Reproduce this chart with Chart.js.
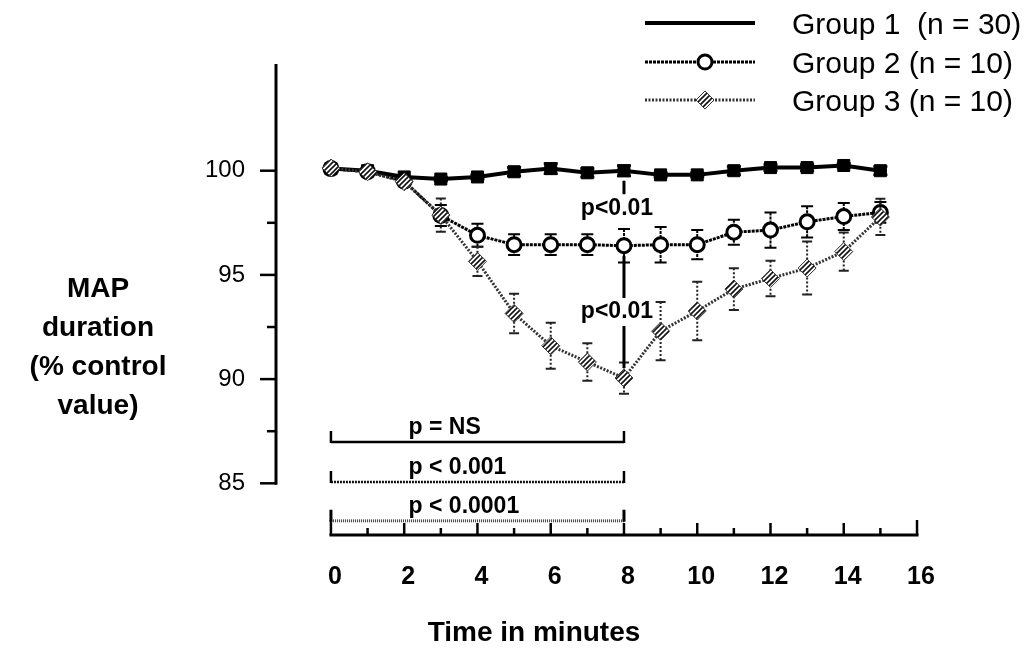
<!DOCTYPE html>
<html>
<head>
<meta charset="utf-8">
<title>MAP duration</title>
<script src="https://cdn.jsdelivr.net/npm/chart.js@4.4.1/dist/chart.umd.min.js"></script>
<style>
  html, body { margin: 0; padding: 0; background: #fff; }
  #grafico { display: block; }
</style>
</head>
<body>
<canvas id="grafico" width="1027" height="650"></canvas>
<script>
// time points (minutes)
const minutes = [0, 1, 2, 3, 4, 5, 6, 7, 8, 9, 10, 11, 12, 13, 14, 15];

// MAP duration, % of control value (mean and SEM)
const group1 = [100.1, 100.0, 99.7, 99.6, 99.7, 99.95, 100.1, 99.9, 100.0, 99.8, 99.8, 100.0, 100.15, 100.15, 100.25, 100.0];
const group1Err = [0, 0, 0, 0.1, 0.1, 0.2, 0.25, 0.2, 0.25, 0.1, 0.1, 0.2, 0.15, 0.15, 0.1, 0.2];
const group2 = [100.1, 99.95, 99.5, 97.85, 96.9, 96.45, 96.45, 96.45, 96.4, 96.45, 96.45, 97.05, 97.15, 97.55, 97.8, 98.0];
const group2Err = [0, 0, 0, 0.5, 0.55, 0.5, 0.5, 0.5, 0.8, 0.85, 0.7, 0.6, 0.85, 0.75, 0.65, 0.5];
const group3 = [100.13, 99.95, 99.47, 97.87, 95.65, 93.15, 91.6, 90.82, 90.05, 92.3, 93.27, 94.32, 94.83, 95.33, 96.12, 97.78];
const group3Err = [0, 0, 0, 0.8, 0.7, 0.95, 1.1, 0.9, 0.75, 1.4, 1.4, 1.0, 0.85, 1.27, 0.92, 0.87];

const seriesNames = ['Group 1  (n = 30)', 'Group 2 (n = 10)', 'Group 3 (n = 10)'];

const xTickValues = [0, 2, 4, 6, 8, 10, 12, 14, 16];
const xTickLabels = ['0', '2', '4', '6', '8', '10', '12', '14', '16'];
const yTickValues = [85, 90, 95, 100];
const yTickLabels = ['85', '90', '95', '100'];

// comparisons over 0-8 min, and between groups at 8 min
const rangeTests = ['p = NS', 'p < 0.001', 'p < 0.0001'];
const rangeStart = 0;
const rangeEnd = 8;
const pointTests = ['p<0.01', 'p<0.01'];
const pointTestMinute = 8;

const FONT = "'Liberation Sans', Arial, Helvetica, sans-serif";

const canvas = document.getElementById('grafico');
const ctx = canvas.getContext('2d');

// diagonal hatch used for group 3 markers
function makeHatch() {
    const c = document.createElement('canvas');
    c.width = 5;
    c.height = 5;
    const g = c.getContext('2d');
    g.fillStyle = '#fff';
    g.fillRect(0, 0, 5, 5);
    g.strokeStyle = '#111';
    g.lineWidth = 1.6;
    g.beginPath();
    g.moveTo(0, 5); g.lineTo(5, 0);
    g.moveTo(-1, 1); g.lineTo(1, -1);
    g.moveTo(4, 6); g.lineTo(6, 4);
    g.stroke();
    return ctx.createPattern(c, 'repeat');
}
const hatch = makeHatch();

const toPoints = (vals) => minutes.map((m, i) => ({ x: m, y: vals[i] }));

const errStyles = [
    { err: group1Err, color: '#000', width: 2.5, dash: [], cap: 7 },
    { err: group2Err, color: '#000', width: 2, dash: [3, 1], cap: 6 },
    { err: group3Err, color: '#222', width: 2, dash: [2, 2], cap: 5 }
];

// error bars drawn just before each dataset so markers sit on top
const errorBars = {
    id: 'errorBars',
    beforeDatasetDraw(chart, args) {
        const st = errStyles[args.index];
        if (!st) return;
        const { x, y } = chart.scales;
        const vals = chart.data.datasets[args.index].data;
        const c = chart.ctx;
        c.save();
        c.strokeStyle = st.color;
        c.lineWidth = st.width;
        vals.forEach((p, i) => {
            const e = st.err[i];
            if (!e) return;
            const px = x.getPixelForValue(p.x);
            const top = y.getPixelForValue(p.y + e);
            const bot = y.getPixelForValue(p.y - e);
            c.setLineDash(st.dash);
            c.beginPath();
            c.moveTo(px, top); c.lineTo(px, bot);
            c.stroke();
            c.setLineDash([]);
            c.beginPath();
            c.moveTo(px - st.cap, top); c.lineTo(px + st.cap, top);
            c.moveTo(px - st.cap, bot); c.lineTo(px + st.cap, bot);
            c.stroke();
        });
        c.restore();
    }
};

// axes, annotations, legend and titles
const decorations = {
    id: 'decorations',
    afterDraw(chart) {
        const { x, y } = chart.scales;
        const area = chart.chartArea;
        const c = chart.ctx;
        c.save();
        c.strokeStyle = '#000';
        c.fillStyle = '#000';
        c.lineWidth = 3;

        // y axis, starting at 85
        const ax = area.left;
        c.beginPath();
        c.moveTo(ax, y.getPixelForValue(85) + 1.5);
        c.lineTo(ax, area.top);
        c.stroke();
        c.lineWidth = 2.5;
        for (let v = 85; v <= 100; v += 2.5) {
            const py = y.getPixelForValue(v);
            const len = v % 5 === 0 ? 16 : 9;
            c.beginPath();
            c.moveTo(ax - len, py); c.lineTo(ax, py);
            c.stroke();
        }

        // x axis from 0 to 16 with upward ticks
        const ay = area.bottom;
        c.lineWidth = 3;
        c.beginPath();
        c.moveTo(x.getPixelForValue(0) - 1.5, ay);
        c.lineTo(x.getPixelForValue(16) + 1.5, ay);
        c.stroke();
        c.lineWidth = 2.5;
        for (let m = 0; m <= 16; m++) {
            const px = x.getPixelForValue(m);
            const len = (m === 0 || m === 16) ? 15 : (m % 2 === 0 ? 12 : 7);
            c.beginPath();
            c.moveTo(px, ay); c.lineTo(px, ay - len);
            c.stroke();
        }

        // range brackets 0-8 min
        const levels = [86.98, 85.06, 83.2];
        const bStyles = [
            { color: '#000', dash: [], width: 2.5 },
            { color: '#111', dash: [2, 1], width: 2.5 },
            { color: '#444', dash: [1, 1], width: 3 }
        ];
        const bx0 = x.getPixelForValue(rangeStart);
        const bx1 = x.getPixelForValue(rangeEnd);
        c.font = 'bold 23px ' + FONT;
        c.textBaseline = 'alphabetic';
        c.textAlign = 'left';
        rangeTests.forEach((label, i) => {
            const by = y.getPixelForValue(levels[i]);
            const s = bStyles[i];
            c.strokeStyle = s.color;
            c.lineWidth = s.width;
            c.setLineDash(s.dash);
            c.beginPath();
            c.moveTo(bx0, by); c.lineTo(bx1, by);
            c.stroke();
            c.setLineDash([]);
            c.strokeStyle = '#000';
            c.beginPath();
            c.moveTo(bx0, by + 1); c.lineTo(bx0, by - 11);
            c.moveTo(bx1, by + 1); c.lineTo(bx1, by - 11);
            c.stroke();
            c.fillText(label, x.getPixelForValue(2.12), by - 8);
        });

        // between-group tests at 8 min
        const k = minutes.indexOf(pointTestMinute);
        const pairs = [[group1[k], group2[k]], [group2[k], group3[k]]];
        const px = x.getPixelForValue(pointTestMinute);
        c.font = 'bold 23px ' + FONT;
        c.textAlign = 'center';
        c.textBaseline = 'middle';
        c.strokeStyle = '#000';
        c.lineWidth = 3;
        pointTests.forEach((label, i) => {
            const ya = y.getPixelForValue(pairs[i][0]);
            const yb = y.getPixelForValue(pairs[i][1]);
            const mid = (ya + yb) / 2;
            c.fillText(label, px - 7, mid);
            c.beginPath();
            c.moveTo(px, ya + 10); c.lineTo(px, mid - 14);
            if (yb - 10 - (mid + 14) > 20) {
                c.moveTo(px, mid + 14); c.lineTo(px, yb - 10);
            }
            c.stroke();
        });

        // legend
        const lx0 = 645, lx1 = 755, tx = 792;
        const rows = [23, 62, 100];
        c.textAlign = 'left';
        c.textBaseline = 'middle';
        c.font = '30px ' + FONT;
        chart.data.datasets.forEach((ds, i) => {
            const ly = rows[i];
            c.strokeStyle = ds.borderColor;
            c.lineWidth = ds.borderWidth;
            c.setLineDash(ds.borderDash || []);
            c.beginPath();
            c.moveTo(lx0, ly); c.lineTo(lx1, ly);
            c.stroke();
            c.setLineDash([]);
            if (i > 0) {
                c.fillStyle = ds.pointBackgroundColor;
                c.strokeStyle = ds.pointBorderColor;
                c.lineWidth = ds.pointBorderWidth;
                Chart.helpers.drawPoint(c, {
                    pointStyle: ds.pointStyle,
                    radius: ds.pointRadius,
                    rotation: 0,
                    borderWidth: ds.pointBorderWidth
                }, 705, ly);
            }
            c.fillStyle = '#000';
            c.fillText(seriesNames[i], tx, ly + 3);
        });

        // axis titles
        c.font = 'bold 28px ' + FONT;
        c.textAlign = 'center';
        ['MAP', 'duration', '(% control', 'value)'].forEach((t, i) => {
            c.fillText(t, 98, 289 + i * 39);
        });
        c.fillText('Time in minutes', 534, 633);
        c.restore();
    }
};

const grafico = new Chart(ctx, {
    type: 'line',
    data: {
        datasets: [{
            label: seriesNames[0],
            data: toPoints(group1),
            borderColor: '#000',
            borderWidth: 4,
            pointStyle: 'rect',
            pointRadius: 8.5,
            pointBackgroundColor: '#000',
            pointBorderColor: '#000',
            pointBorderWidth: 1,
            tension: 0,
            order: 2
        }, {
            label: seriesNames[1],
            data: toPoints(group2),
            borderColor: '#000',
            borderWidth: 3,
            borderDash: [3, 1],
            pointStyle: 'circle',
            pointRadius: 7,
            pointBackgroundColor: '#fff',
            pointBorderColor: '#000',
            pointBorderWidth: 3,
            tension: 0,
            order: 1
        }, {
            label: seriesNames[2],
            data: toPoints(group3),
            borderColor: '#333',
            borderWidth: 3,
            borderDash: [2, 1.5],
            pointStyle: 'rectRot',
            pointRadius: 9,
            pointBackgroundColor: hatch,
            pointBorderColor: '#333',
            pointBorderWidth: 1,
            tension: 0,
            order: 0
        }]
    },
    options: {
        responsive: false,
        devicePixelRatio: 1,
        animation: false,
        layout: {
            padding: { left: 196, top: 64, right: 99, bottom: 0 }
        },
        scales: {
            x: {
                type: 'linear',
                min: -1.5,
                max: 16.3,
                grid: { display: false, drawTicks: false },
                border: { display: false },
                afterBuildTicks: (scale) => {
                    scale.ticks = xTickValues.map(v => ({ value: v }));
                },
                afterFit: (scale) => { scale.height = 115; },
                ticks: {
                    autoSkip: false,
                    maxRotation: 0,
                    padding: 27,
                    labelOffset: 4,
                    color: '#000',
                    font: { size: 25, weight: 'bold', family: FONT },
                    callback: (v) => xTickLabels[xTickValues.indexOf(v)]
                }
            },
            y: {
                type: 'linear',
                min: 82.52,
                max: 105.12,
                grid: { display: false, drawTicks: false },
                border: { display: false },
                afterBuildTicks: (scale) => {
                    scale.ticks = yTickValues.map(v => ({ value: v }));
                },
                afterFit: (scale) => { scale.width = 80; },
                ticks: {
                    autoSkip: false,
                    padding: 31,
                    color: '#000',
                    font: { size: 24, family: FONT },
                    callback: (v) => yTickLabels[yTickValues.indexOf(v)]
                }
            }
        },
        plugins: {
            legend: { display: false },
            tooltip: { enabled: false }
        }
    },
    plugins: [errorBars, decorations]
});
</script>
</body>
</html>
